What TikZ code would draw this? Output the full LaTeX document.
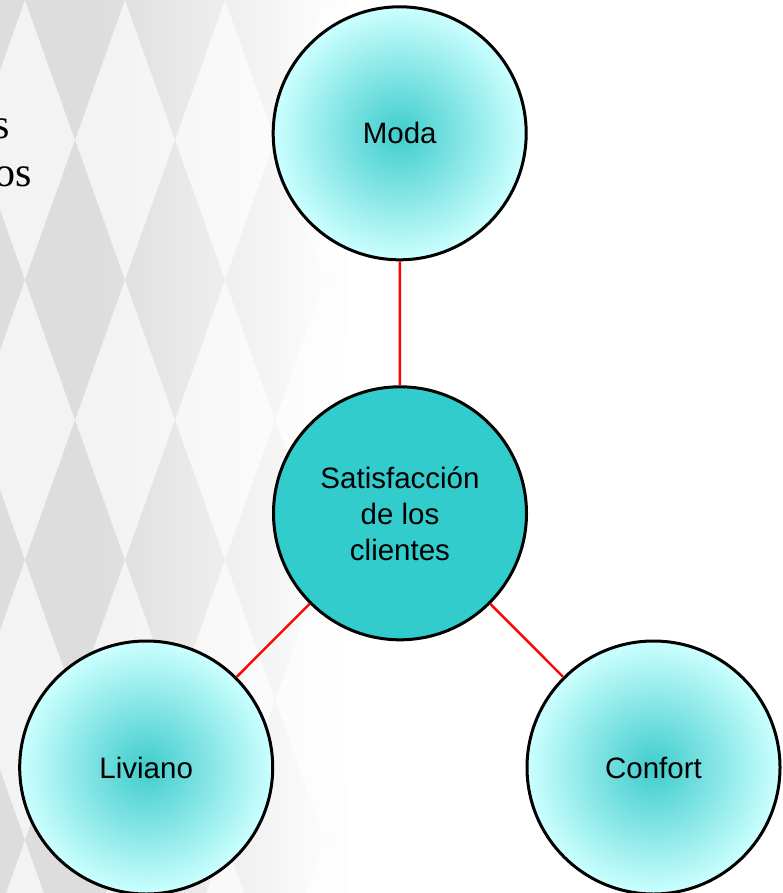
\documentclass[tikz,border=0pt]{standalone}
\usepackage{fontspec}
\setmainfont{Liberation Sans}
\newfontfamily\serifr{Liberation Serif}
\definecolor{ballin}{HTML}{40CCCC}
\definecolor{ballout}{HTML}{CCFFFF}
\definecolor{core}{HTML}{33CCCC}
\definecolor{bgdark}{HTML}{DDDDDD}
\definecolor{bglight}{HTML}{F3F3F3}
\pgfdeclareradialshading{ballshade}{\pgfpoint{0bp}{0bp}}{color(0bp)=(ballin); color(25bp)=(ballout); color(50bp)=(ballout)}
\begin{document}
\begin{tikzpicture}[x=1pt,y=-1pt,
  bubble/.style={circle, draw=black, line width=3pt, minimum size=253pt, inner sep=0pt,
                 font=\fontsize{29.5}{36}\selectfont, text=black},
  outerball/.style={bubble, shade, shading=ballshade},
  hub/.style={bubble, fill=core, align=center},
  conn/.style={draw=red, line width=2.4pt},
  sidetext/.style={font=\serifr\fontsize{42}{48}\selectfont, anchor=base east, inner sep=0pt, text=black}]
\useasboundingbox (0,0) rectangle (782,893);
\fill[white] (0,0) rectangle (782,893);
% background harlequin pattern fading to the right
\begin{scope}
  \clip (0,0) rectangle (345,893);
  \fill[bglight] (0,0) rectangle (345,893);
  \foreach \i in {-1,...,3}{
    \foreach \j in {0,...,4}{
      \fill[bgdark] ({25+100*\i},{280*\j}) -- ++(50,-140) -- ++(50,140) -- ++(-50,140) -- cycle;
    }
  }
  \foreach \k in {0,...,48}{
    \pgfmathsetmacro\op{(\k+1)/49}
    \fill[white, opacity=\op] ({100+5*\k},0) rectangle ({105+5*\k},893);
  }
\end{scope}
% cropped text at the left edge
\node[sidetext] (t1) at (10.5,139) {s};
\node[sidetext] (t2) at (32.5,187) {os};
% nodes
\node[outerball] (moda) at (399.7,133.3) {Moda};
\node[hub] (sat) at (400,513.3) {Satisfacción\\de los\\clientes};
\node[outerball] (liv) at (146.2,767.5) {Liviano};
\node[outerball] (conf) at (653.5,767.5) {Confort};
% connectors
\draw[conn] (moda) -- (sat);
\draw[conn] (sat) -- (liv);
\draw[conn] (sat) -- (conf);
\end{tikzpicture}
\end{document}
